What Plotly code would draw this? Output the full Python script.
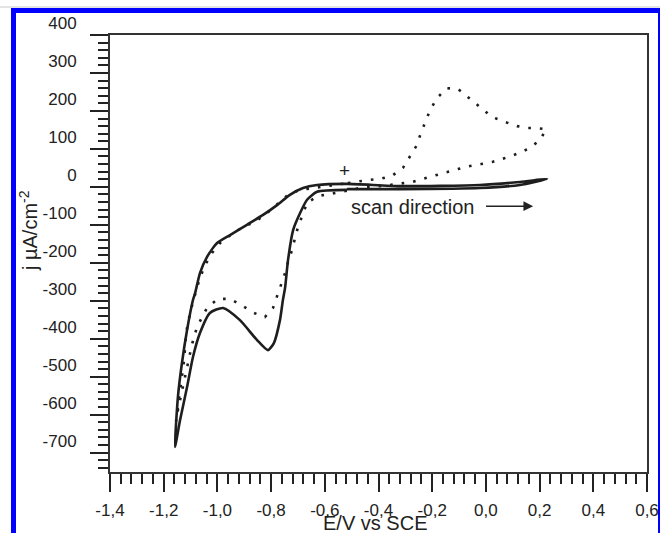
import plotly.graph_objects as go

# ---- data (E in V vs SCE, j in µA/cm^2) ----
solid_E = [-0.517, -0.320, -0.022, 0.127, 0.228, 0.127, -0.022, -0.320, -0.517,
           -0.629, -0.681, -0.730, -0.778, -0.830, -0.890, -0.953, -1.001, -1.039,
           -1.065, -1.083, -1.091, -1.113, -1.132, -1.147, -1.158,
           -1.139, -1.113, -1.091, -1.065, -1.028, -0.979, -0.916, -0.853, -0.812,
           -0.790, -0.767, -0.756, -0.748, -0.737, -0.718, -0.692, -0.666, -0.629, -0.517]
solid_j = [-6, -6, -3, 5, 21, 13, 5, 2, 8,
           5, -3, -21, -48, -74, -100, -127, -148, -185,
           -227, -280, -298, -377, -464, -553, -685,
           -614, -527, -448, -385, -332, -319, -351, -403, -430,
           -412, -351, -298, -266, -193, -114, -69, -34, -13, -8]

dotted_E = [-0.514, -0.476, -0.439, -0.394, -0.350, -0.309, -0.283, -0.257, -0.242,
            -0.223, -0.208, -0.182, -0.145, -0.104, -0.059, -0.018, 0.023, 0.071,
            0.116, 0.153, 0.183, 0.224,
            0.202, 0.157, 0.116, 0.071, 0.026, -0.018, -0.059, -0.104, -0.145,
            -0.190, -0.234, -0.275, -0.357, -0.469,
            -0.536, -0.581, -0.625, -0.666, -0.700, -0.711, -0.722, -0.737, -0.748,
            -0.763, -0.778, -0.793, -0.823, -0.864, -0.905, -0.953, -0.998, -1.039,
            -1.057, -1.076, -1.095, -1.113, -1.132, -1.147, -1.154,
            -1.147, -1.136, -1.124, -1.117, -1.110, -1.102, -1.091, -1.076, -1.065,
            -1.046, -1.020, -0.990, -0.946, -0.905, -0.860, -0.815, -0.774, -0.737,
            -0.692, -0.618, -0.514]
dotted_j = [10, 15, 18, 21, 29, 50, 79, 110, 142,
            174, 202, 234, 260, 258, 231, 208, 184, 171,
            160, 155, 155, 152,
            123, 100, 87, 76, 66, 60, 55, 47, 39,
            31, 23, 13, 5, -3,
            -13, -19, -24, -42, -106, -135, -166, -198, -227,
            -258, -290, -319, -343, -332, -314, -295, -295, -319,
            -343, -369, -416, -474, -540, -588, -617,
            -574, -522, -456, -390, -358, -332, -303, -266, -240,
            -206, -174, -148, -124, -106, -92, -69, -45, -21,
            -8, 0, 10]

x_tickvals = [-1.4, -1.2, -1.0, -0.8, -0.6, -0.4, -0.2, 0.0, 0.2, 0.4, 0.6]
x_ticktext = ["-1,4", "-1,2", "-1,0", "-0,8", "-0,6", "-0,4", "-0,2", "0,0", "0,2", "0,4", "0,6"]
y_tickvals = [400, 300, 200, 100, 0, -100, -200, -300, -400, -500, -600, -700]
y_ticktext = ["400", "300", "200", "100", "0", "-100", "-200", "-300", "-400", "-500", "-600", "-700"]

start_mark = (-0.525, 44)
arrow_from = (-0.005, -51)
arrow_to = (0.176, -51)
scan_label_pos = (-0.272, -52)

FONT = "Liberation Sans, Arial, sans-serif"
INK = "#1e1e1e"

fig = go.Figure()
fig.add_trace(go.Scatter(x=dotted_E, y=dotted_j, mode="lines",
                         line=dict(color=INK, width=2.6, dash="2.6px,9px"),
                         hoverinfo="skip", showlegend=False))
fig.add_trace(go.Scatter(x=solid_E, y=solid_j, mode="lines",
                         line=dict(color=INK, width=2.6, shape="spline", smoothing=0.6),
                         hoverinfo="skip", showlegend=False))

fig.update_layout(
    width=660, height=533, autosize=False,
    margin=dict(l=110, r=13, t=35, b=61, autoexpand=False),
    paper_bgcolor="white", plot_bgcolor="white",
    font=dict(family=FONT, color="#222", size=17),
    showlegend=False,
)

axis_common = dict(showline=True, linecolor="#333", linewidth=2, mirror=True,
                   showgrid=False, zeroline=False, ticks="outside", ticklen=18,
                   automargin=False,
                   tickwidth=2, tickcolor="#222", tickfont=dict(size=17, family=FONT, color="#222"))

fig.update_xaxes(range=[-1.4, 0.6], tickvals=x_tickvals, ticktext=x_ticktext,
                 ticklabelstandoff=4,
                 minor=dict(ticks="outside", ticklen=10, tickwidth=2, tickcolor="#222",
                            tick0=-1.4, dtick=0.04, showgrid=False),
                 **axis_common)
fig.update_yaxes(range=[-751, 400], tickvals=y_tickvals, ticktext=y_ticktext,
                 ticklabelstandoff=10, ticklabelshift=-12,
                 minor=dict(ticks="outside", ticklen=10, tickwidth=2, tickcolor="#222",
                            tick0=0, dtick=20, showgrid=False),
                 **axis_common)

# axis titles
fig.add_annotation(text="E/V vs SCE", xref="paper", yref="paper",
                   x=(375 - 110) / 537, y=(472 - 523) / 437, showarrow=False,
                   xanchor="center", yanchor="middle", font=dict(size=20, family=FONT, color="#222"))
fig.add_annotation(text="j µA/cm<sup>-2</sup>", xref="paper", yref="paper",
                   x=(28 - 110) / 537, y=(472 - 231) / 437, showarrow=False, textangle=-90,
                   xanchor="center", yanchor="middle", font=dict(size=20, family=FONT, color="#222"))

# in-plot annotations
fig.add_annotation(text="+", x=start_mark[0], y=start_mark[1], showarrow=False,
                   font=dict(size=19, family=FONT, color="#222"))
fig.add_annotation(text="scan direction", x=scan_label_pos[0], y=scan_label_pos[1], showarrow=False,
                   font=dict(size=20, family=FONT, color="#222"))
fig.add_annotation(x=arrow_to[0], y=arrow_to[1], ax=arrow_from[0], ay=arrow_from[1],
                   xref="x", yref="y", axref="x", ayref="y", text="", showarrow=True,
                   arrowhead=2, arrowsize=1.3, arrowwidth=1.5, arrowcolor="#222")

# blue page frame
def px(xp):
    return (xp - 110) / 537

def py(yp):
    return (472 - yp) / 437

fig.add_shape(type="rect", xref="paper", yref="paper", x0=px(0), x1=px(660), y0=py(7.5), y1=py(6.5),
              line=dict(width=0), fillcolor="#c8c8c8")
fig.add_shape(type="rect", xref="paper", yref="paper", x0=px(11), x1=px(16), y0=py(533), y1=py(8),
              line=dict(width=0), fillcolor="#0000ff")
fig.add_shape(type="rect", xref="paper", yref="paper", x0=px(11), x1=px(660), y0=py(13), y1=py(8),
              line=dict(width=0), fillcolor="#0000ff")
fig.add_shape(type="rect", xref="paper", yref="paper", x0=px(658), x1=px(660), y0=py(533), y1=py(8),
              line=dict(width=0), fillcolor="#0000ff")

fig.write_html("out.html")
